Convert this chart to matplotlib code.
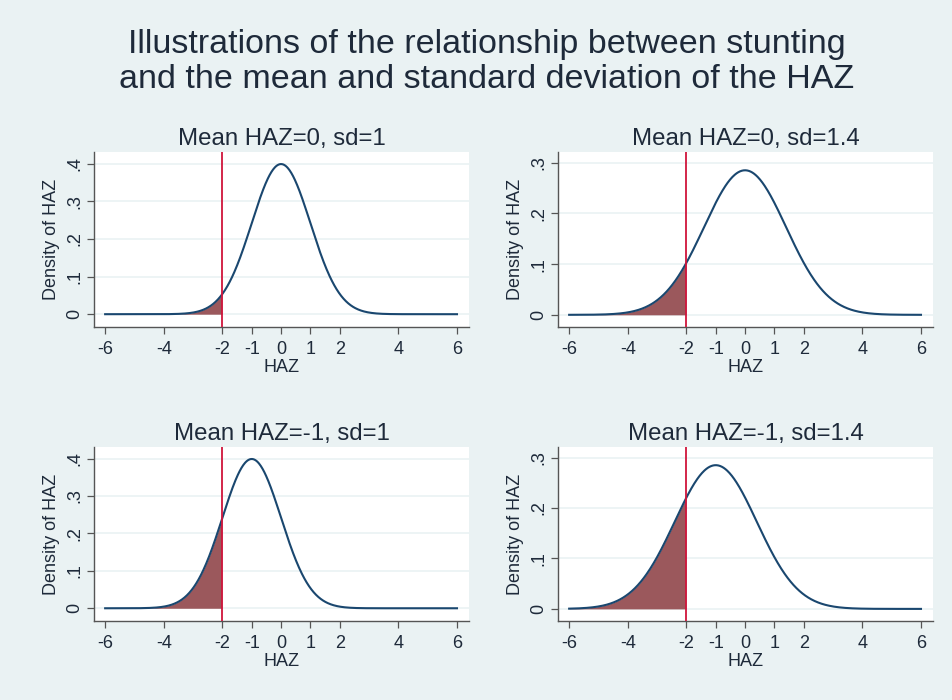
import numpy as np
import matplotlib
matplotlib.use("Agg")
import matplotlib.pyplot as plt

# panel parameters
means = [0, 0, -1, -1]
sds = [1, 1.4, 1, 1.4]
panel_titles = ["Mean HAZ=0, sd=1", "Mean HAZ=0, sd=1.4",
                "Mean HAZ=-1, sd=1", "Mean HAZ=-1, sd=1.4"]
cutoff = -2
x_range = (-6, 6)
xticks = [-6, -4, -2, -1, 0, 1, 2, 4, 6]
yticks_sd1 = [0, 0.1, 0.2, 0.3, 0.4]
yticks_sd14 = [0, 0.1, 0.2, 0.3]
ytick_labels_sd1 = ["0", ".1", ".2", ".3", ".4"]
ytick_labels_sd14 = ["0", ".1", ".2", ".3"]

BG = "#eaf2f3"
NAVY = "#1a476f"
RED = "#d0153c"
FILL = "#9b585c"
TXT = "#1e2a3a"

plt.rcParams["font.family"] = ["Liberation Sans", "DejaVu Sans"]

fig = plt.figure(figsize=(9.52, 7.0), dpi=100, facecolor=BG)
W, H = 952, 700
# axes boxes in pixels: left, top, right, bottom
boxes = [(94, 152, 469, 327), (558, 152, 933, 327),
         (94, 447, 469, 621), (558, 447, 933, 621)]

fig.text(487 / W, 1 - 45 / H, "Illustrations of the relationship between stunting",
         ha="center", va="center", fontsize=24.5, color=TXT)
fig.text(487 / W, 1 - 79 / H, "and the mean and standard deviation of the HAZ",
         ha="center", va="center", fontsize=24.5, color=TXT)

for i, (l, t, r, b) in enumerate(boxes):
    ax = fig.add_axes([l / W, 1 - b / H, (r - l) / W, (b - t) / H])
    ax.set_facecolor("white")
    mu, sd = means[i], sds[i]
    xs = np.linspace(x_range[0], x_range[1], 600)
    dens = np.exp(-0.5 * ((xs - mu) / sd) ** 2) / (sd * np.sqrt(2 * np.pi))
    m = xs <= cutoff
    ax.fill_between(xs[m], 0, dens[m], color=FILL, lw=0, zorder=2)
    ax.plot(xs, dens, color=NAVY, lw=1.5, zorder=3)
    ax.axvline(cutoff, color=RED, lw=1.3, zorder=4)

    if sd == 1:
        ax.set_ylim(-0.034, 0.431)
        ax.set_yticks(yticks_sd1)
        ax.set_yticklabels(ytick_labels_sd1)
    else:
        ax.set_ylim(-0.024, 0.321)
        ax.set_yticks(yticks_sd14)
        ax.set_yticklabels(ytick_labels_sd14)
    ax.set_xlim(-6.38, 6.41)
    ax.set_xticks(xticks)
    ax.set_xticklabels([str(v) for v in xticks])
    ax.grid(axis="y", color=BG, lw=1.2, zorder=0)
    ax.set_axisbelow(True)

    for s in ("top", "right"):
        ax.spines[s].set_visible(False)
    for s in ("left", "bottom"):
        ax.spines[s].set_color("#555555")
        ax.spines[s].set_linewidth(1.0)
    ax.tick_params(axis="both", direction="out", length=5, width=0.9,
                   color="#555555", labelsize=13, labelcolor=TXT, pad=3)
    ax.tick_params(axis="x", pad=5)
    for lab in ax.get_yticklabels():
        lab.set_rotation(90)
        lab.set_va("center")

    ax.set_xlabel("HAZ", fontsize=13, color=TXT, labelpad=1)
    ax.set_ylabel("Density of HAZ", fontsize=13, color=TXT, labelpad=4)
    ax.set_title(panel_titles[i], fontsize=17.3, color=TXT, pad=5)

fig.savefig("out.png", dpi=100, facecolor=BG)
